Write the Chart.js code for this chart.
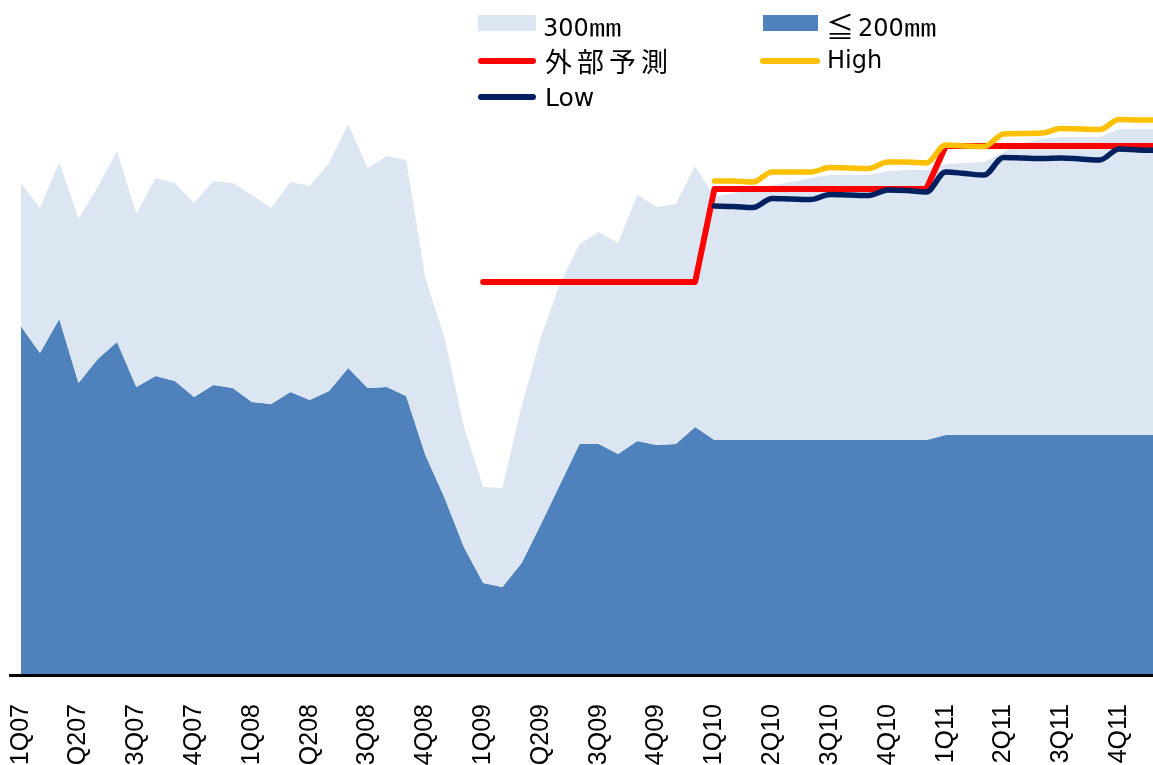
<!DOCTYPE html>
<html>
<head>
<meta charset="utf-8">
<script src="https://cdn.jsdelivr.net/npm/chart.js@4.4.1/dist/chart.umd.min.js"></script>
<style>
    html, body { margin: 0; padding: 0; background: #fff; overflow: hidden; }
    #wrap { position: relative; width: 1178px; height: 765px; }
    #chart { display: block; }
    .legend { position: absolute; font-family: "DejaVu Sans", "Noto Sans CJK JP", sans-serif; font-size: 24px; color: #000; line-height: 24px; white-space: nowrap; }
    .cjk { font-family: "Noto Sans CJK JP", sans-serif; }
    .mm { display: inline-block; width: 34px; transform: scaleX(1.35); transform-origin: left; }
    .box { position: absolute; height: 16px; }
    .ln { position: absolute; height: 6px; border-radius: 3px; }
</style>
</head>
<body>
<div id="wrap">
    <canvas id="chart" width="1178" height="765"></canvas>

    <!-- legenda manual, por cima da área do gráfico -->
    <div class="box" style="left:478px; top:15px; width:58px; background:#DCE6F2;"></div>
    <div class="legend" style="left:543px; top:14px;">300<span class="cjk mm">㎜</span></div>
    <div class="box" style="left:763px; top:15px; width:55px; background:#4F81BD;"></div>
    <div class="legend cjk" style="left:826px; top:12px; font-size:28px; line-height:28px;">≦</div>
    <div class="legend" style="left:858px; top:14px;">200<span class="cjk mm">㎜</span></div>

    <div class="ln" style="left:478px; top:58px; width:58px; background:#FF0000;"></div>
    <div class="legend cjk" style="left:545px; top:47px; font-size:27px; line-height:27px; letter-spacing:5px;">外部予測</div>
    <div class="ln" style="left:760px; top:58px; width:60px; background:#FFC000;"></div>
    <div class="legend" style="left:827px; top:48px;">High</div>

    <div class="ln" style="left:478px; top:94px; width:58px; background:#002060;"></div>
    <div class="legend" style="left:545px; top:85px; font-size:25px; line-height:25px;">Low</div>
</div>

<script>
// rótulos trimestrais (um a cada 3 meses)
const quarterLabels = ['1Q07', 'Q207', '3Q07', '4Q07', '1Q08', 'Q208', '3Q08', '4Q08',
    '1Q09', 'Q209', '3Q09', '4Q09', '1Q10', '2Q10', '3Q10', '4Q10',
    '1Q11', '2Q11', '3Q11', '4Q11'];

// ≦200mm (mensal, 60 pontos)
const upTo200 = [348, 321, 355, 291, 315, 332, 287, 298, 293, 277, 289, 286,
    272, 270, 282, 274, 283, 306, 286, 287, 278, 219, 176, 127,
    91, 87, 111, 150, 190, 230, 230, 220, 233, 229, 230, 247,
    234, 234, 234, 234, 234, 234, 234, 234, 234, 234, 234, 234,
    239, 239, 239, 239, 239, 239, 239, 239, 239, 239, 239, 239];

// topo da área 300mm (total acumulado)
const total300 = [491, 466, 512, 455, 487, 523, 460, 496, 491, 471, 493, 491,
    479, 466, 492, 488, 511, 550, 506, 518, 514, 396, 336, 247,
    187, 186, 268, 337, 391, 430, 442, 431, 479, 467, 470, 508,
    477, 481, 485, 489, 492, 496, 499, 499, 499, 503, 504, 504,
    510, 511, 512, 522, 531, 535, 537, 537, 537, 545, 545, 545];

const n = null;
// 外部予測
const externalForecast = [n, n, n, n, n, n, n, n, n, n, n, n,
    n, n, n, n, n, n, n, n, n, n, n, n,
    392, 392, 392, 392, 392, 392, 392, 392, 392, 392, 392, 392,
    485, 485, 485, 485, 485, 485, 485, 485, 485, 485, 485, 485,
    528, 528, 528, 528, 528, 528, 528, 528, 528, 528, 528, 528];

const highCase = [n, n, n, n, n, n, n, n, n, n, n, n,
    n, n, n, n, n, n, n, n, n, n, n, n,
    n, n, n, n, n, n, n, n, n, n, n, n,
    493, 493, 492, 502, 502, 502, 506.5, 506, 505.5, 512, 512, 511,
    529, 528, 527.5, 540, 540.5, 541, 545.5, 545, 544.5, 554.5, 554, 554];

const lowCase = [n, n, n, n, n, n, n, n, n, n, n, n,
    n, n, n, n, n, n, n, n, n, n, n, n,
    n, n, n, n, n, n, n, n, n, n, n, n,
    468, 467.5, 466.5, 475.5, 475, 474.5, 479.5, 479, 478.5, 484, 483.5, 482,
    502, 500.5, 499, 516.5, 516, 515.5, 516, 515, 514, 525, 524, 523.5];

// categorias mensais: só o primeiro mês de cada trimestre tem texto
const months = [];
quarterLabels.forEach(q => { months.push(q, '', ''); });

// linha preta do eixo x, passa um pouco à esquerda da área
const axisLine = {
    id: 'axisLine',
    afterDatasetsDraw(chart) {
        const { ctx, chartArea } = chart;
        ctx.save();
        ctx.strokeStyle = '#000';
        ctx.lineWidth = 3;
        ctx.beginPath();
        ctx.moveTo(9, chartArea.bottom + 1.5);
        ctx.lineTo(chart.width, chartArea.bottom + 1.5);
        ctx.stroke();
        ctx.restore();
    }
};

const lineStyle = (color, width) => ({
    borderColor: color,
    backgroundColor: color,
    borderWidth: width,
    borderCapStyle: 'round',
    borderJoinStyle: 'round',
    pointRadius: 0,
    fill: false,
});

new Chart(document.getElementById('chart'), {
    type: 'line',
    data: {
        labels: months,
        datasets: [
            { label: 'Low', data: lowCase, ...lineStyle('#002060', 5.5), cubicInterpolationMode: 'monotone' },
            { label: 'High', data: highCase, ...lineStyle('#FFC000', 5.5), cubicInterpolationMode: 'monotone' },
            { label: '外部予測', data: externalForecast, ...lineStyle('#FF0000', 6), tension: 0 },
            { label: '300㎜', data: total300, borderWidth: 0, pointRadius: 0, backgroundColor: '#DCE6F2', fill: '+1' },
            { label: '≦200㎜', data: upTo200, borderWidth: 0, pointRadius: 0, backgroundColor: '#4F81BD', fill: 'origin' },
        ]
    },
    options: {
        responsive: false,
        animation: false,
        layout: { padding: { left: 20.7, right: 20.4, top: 0, bottom: 0 } },
        plugins: {
            legend: { display: false },
            tooltip: { enabled: false },
        },
        scales: {
            x: {
                offset: false,
                grid: { display: false, drawTicks: false },
                border: { display: false },
                afterFit: (scale) => {
                    scale.height = 91;
                    // sem espaço extra para os rótulos nas pontas
                    scale.paddingLeft = 0;
                    scale.paddingRight = 0;
                },
                ticks: {
                    autoSkip: false,
                    maxRotation: 90,
                    minRotation: 90,
                    padding: 30,
                    color: '#000',
                    font: { family: 'Liberation Sans, Arial, sans-serif', size: 25 },
                },
            },
            y: {
                display: false,
                min: 0,
                max: 674,
            }
        }
    },
    plugins: [axisLine],
});
</script>
</body>
</html>
